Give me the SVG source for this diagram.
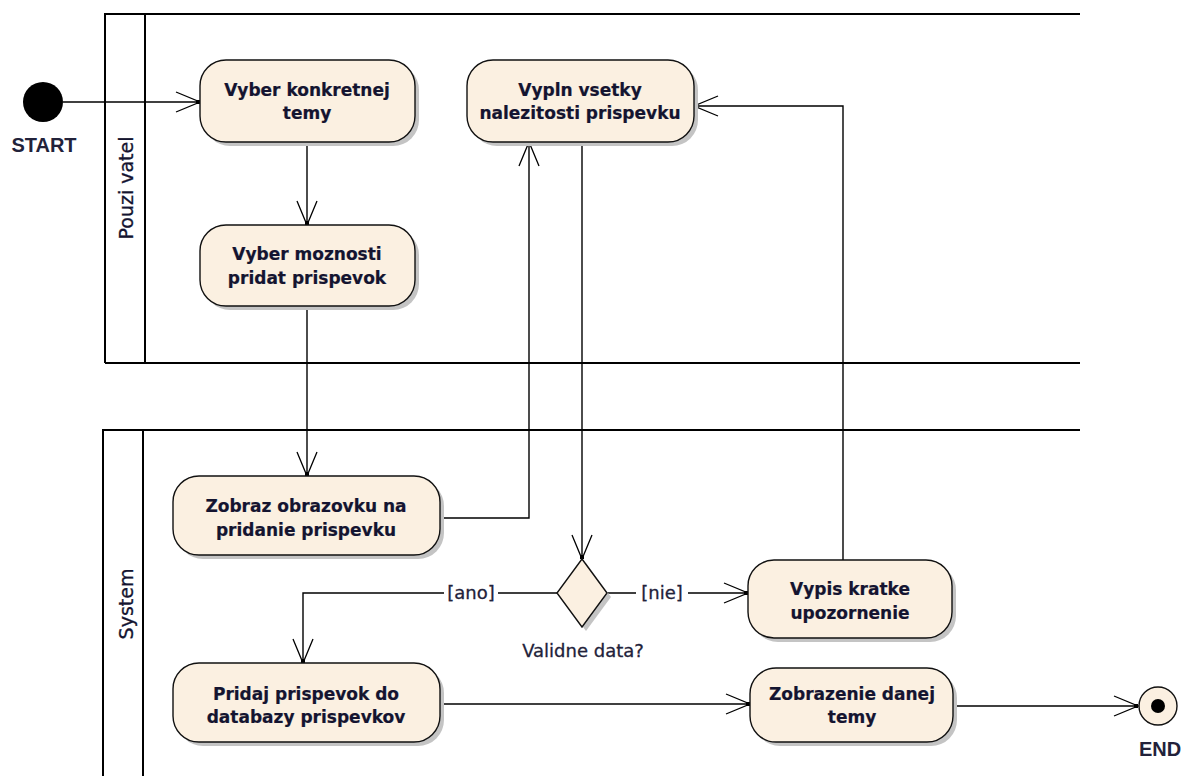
<svg xmlns="http://www.w3.org/2000/svg" width="1190" height="776" viewBox="0 0 1190 776">
  <defs>
    <style>
      .lane { fill: none; stroke: #000; stroke-width: 2; }
      .node { fill: #FBF0E1; stroke: #111; stroke-width: 1.4; }
      .shadow { fill: #C4C4C4; }
      .ntext { font-family: "DejaVu Sans", Verdana, sans-serif; font-weight: bold; font-size: 17px; fill: #141430; stroke: #141430; stroke-width: 0.2; text-anchor: middle; }
      .ltext { font-family: "DejaVu Sans", Verdana, sans-serif; font-size: 18px; fill: #22223a; stroke: #22223a; stroke-width: 0.3; text-anchor: middle; }
      .ttext { font-family: "DejaVu Sans", Verdana, sans-serif; font-size: 19px; fill: #141430; stroke: #141430; stroke-width: 0.3; text-anchor: middle; }
      .ptext { font-family: "Liberation Sans", Arial, sans-serif; font-weight: bold; font-size: 20px; fill: #22223a; text-anchor: middle; }
      .edge { fill: none; stroke: #000; stroke-width: 1.4; }
    </style>
    <marker id="open" markerUnits="userSpaceOnUse" markerWidth="30" markerHeight="30" viewBox="-26 -13 30 26" refX="0" refY="0" orient="auto">
      <path d="M-24,-10 L0,0 L-24,10" fill="none" stroke="#000" stroke-width="1.3"/>
      <rect x="-4" y="-2" width="4" height="4" fill="#000"/>
    </marker>
  </defs>

  <rect width="1190" height="776" fill="#fff"/>

  <!-- swimlane: Pouzi vatel -->
  <g id="lane-pouzivatel">
    <path class="lane" d="M105,363 V14 H1080 M145,14 V363 M105,363 H1080"/>
    <text class="ttext" transform="translate(133,188) rotate(-90)">Pouzi vatel</text>
  </g>

  <!-- swimlane: System -->
  <g id="lane-system">
    <path class="lane" d="M103,776 V430 H1080 M143,430 V776"/>
    <text class="ttext" transform="translate(133,604) rotate(-90)">System</text>
  </g>

  <!-- connectors -->
  <g id="connectors">
    <path class="edge" d="M63,102 H200" marker-end="url(#open)"/>
    <path class="edge" d="M307,142 V225" marker-end="url(#open)"/>
    <path class="edge" d="M307,306 V476" marker-end="url(#open)"/>
    <path class="edge" d="M440,518 H529 V142" marker-end="url(#open)"/>
    <path class="edge" d="M582,142 V559" marker-end="url(#open)"/>
    <path class="edge" d="M557,593 H498 M444,593 H303 V663" marker-end="url(#open)"/>
    <path class="edge" d="M607,593 H636 M688,593 H748" marker-end="url(#open)"/>
    <path class="edge" d="M843,560 V106 H694" marker-end="url(#open)"/>
    <path class="edge" d="M440,704 H750" marker-end="url(#open)"/>
    <path class="edge" d="M953,706 H1138" marker-end="url(#open)"/>
    <text class="ltext" x="471" y="599">[ano]</text>
    <text class="ltext" x="662" y="599">[nie]</text>
  </g>

  <!-- start node -->
  <g id="start">
    <circle cx="43" cy="102" r="20" fill="#000"/>
    <text class="ptext" x="44" y="152">START</text>
  </g>

  <g id="vyber-temy">
    <rect class="shadow" x="204" y="64" width="215" height="82" rx="26"/>
    <rect class="node" x="200" y="60" width="215" height="82" rx="26"/>
    <text class="ntext" x="307" y="96">Vyber konkretnej</text>
    <text class="ntext" x="307" y="119">temy</text>
  </g>

  <g id="vyber-moznosti">
    <rect class="shadow" x="204" y="229" width="215" height="81" rx="26"/>
    <rect class="node" x="200" y="225" width="215" height="81" rx="26"/>
    <text class="ntext" x="307" y="260">Vyber moznosti</text>
    <text class="ntext" x="307" y="284">pridat prispevok</text>
  </g>

  <g id="vypln">
    <rect class="shadow" x="471" y="64" width="227" height="82" rx="26"/>
    <rect class="node" x="467" y="60" width="227" height="82" rx="26"/>
    <text class="ntext" x="580" y="96">Vypln vsetky</text>
    <text class="ntext" x="580" y="119">nalezitosti prispevku</text>
  </g>

  <g id="zobraz">
    <rect class="shadow" x="177" y="480" width="267" height="79" rx="26"/>
    <rect class="node" x="173" y="476" width="267" height="79" rx="26"/>
    <text class="ntext" x="306" y="512">Zobraz obrazovku na</text>
    <text class="ntext" x="306" y="536">pridanie prispevku</text>
  </g>

  <g id="decision">
    <path class="shadow" d="M586,563 L611,597 L586,631 L561,597 Z"/>
    <path class="node" d="M582,559 L607,593 L582,627 L557,593 Z"/>
    <text class="ltext" x="583" y="657">Validne data?</text>
  </g>

  <g id="vypis">
    <rect class="shadow" x="752" y="564" width="204" height="78" rx="26"/>
    <rect class="node" x="748" y="560" width="204" height="78" rx="26"/>
    <text class="ntext" x="850" y="595">Vypis kratke</text>
    <text class="ntext" x="850" y="619">upozornenie</text>
  </g>

  <g id="pridaj">
    <rect class="shadow" x="177" y="667" width="267" height="79" rx="26"/>
    <rect class="node" x="173" y="663" width="267" height="79" rx="26"/>
    <text class="ntext" x="306" y="700">Pridaj prispevok do</text>
    <text class="ntext" x="306" y="723">databazy prispevkov</text>
  </g>

  <g id="zobrazenie">
    <rect class="shadow" x="754" y="672" width="203" height="74" rx="26"/>
    <rect class="node" x="750" y="668" width="203" height="74" rx="26"/>
    <text class="ntext" x="852" y="700">Zobrazenie danej</text>
    <text class="ntext" x="852" y="723">temy</text>
  </g>

  <g id="end">
    <circle cx="1158" cy="706" r="19" fill="#FBF0E1" stroke="#111" stroke-width="1.4"/>
    <circle cx="1158" cy="706" r="7" fill="#000"/>
    <text class="ptext" x="1160" y="756">END</text>
  </g>
</svg>
